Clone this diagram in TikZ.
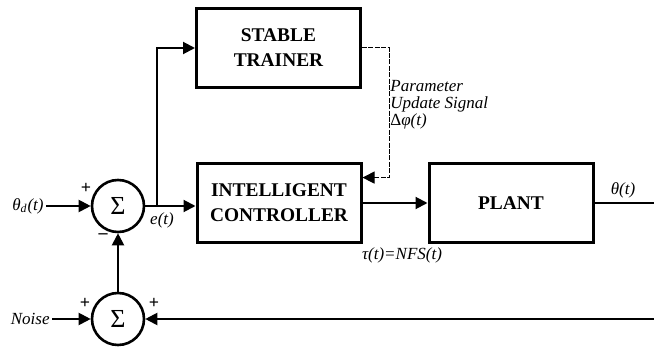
\documentclass[tikz,border=0pt]{standalone}
\usepackage{fontspec}
\setmainfont{Liberation Serif}
\usetikzlibrary{arrows.meta,calc}
\tikzset{
	block/.style={draw,line width=1.5pt,minimum width=82pt,minimum height=39.5pt,align=center,font=\fontsize{9.7}{12.5}\selectfont\bfseries},
	summer/.style={draw,circle,line width=1.3pt,minimum size=26pt,inner sep=0pt,font=\fontsize{13}{13}\selectfont},
	sig/.style={line width=1pt,-{Triangle[length=6pt,width=6pt]}},
	upd/.style={line width=0.5pt,dash pattern=on 2.5pt off 0.7pt,-{Triangle[length=6pt,width=6pt]}},
	lbl/.style={font=\fontsize{8.5}{8.5}\selectfont\itshape,inner sep=1pt},
	sgn/.style={font=\fontsize{9}{9}\selectfont\bfseries,inner sep=0pt},
}
\begin{document}
\begin{tikzpicture}[x=0.5pt,y=-0.5pt]
	\useasboundingbox (0,0) rectangle (654,347);
	%blocs
	\node[block] (trainer) at (278.5,48) {STABLE\\TRAINER};
	\node[block] (ctrl) at (279,203) {INTELLIGENT\\CONTROLLER};
	\node[block] (plant) at (511,203) {PLANT};
	%sommateurs
	\node[summer] (sumE) at (118,206) {Σ};
	\node[summer] (sumN) at (118,319) {Σ};
	%entrees
	\node[lbl,anchor=east] (thetaD) at (46,206) {θ\textsubscript{d}(t)};
	\node[lbl,anchor=east] (noise) at (52,319) {Noise};
	\draw[sig] (thetaD.east) -- (sumE.west);
	\draw[sig] (noise.east) -- (sumN.west);
	\node[sgn] (pE) at (86,188) {+};
	\node[sgn] (mE) at (103,236) {--};
	\node[sgn] (pN1) at (85,303) {+};
	\node[sgn] (pN2) at (154,303) {+};
	%erreur
	\draw[sig] (sumE.east) -- (sumE.east -| ctrl.west);
	\coordinate (branch) at (157,206);
	\node[lbl,anchor=north] (err) at (162,210) {e(t)};
	\draw[sig] (branch) |- (trainer.west);
	\draw[sig] (sumN.north) -- (sumE.south);
	%commande
	\draw[sig] (ctrl.east) -- (plant.west);
	\node[lbl] (tau) at (402,255) {τ(t)=NFS(t)};
	%sortie
	\coordinate (outEnd) at (654,203);
	\draw[line width=1pt] (plant.east) -- (outEnd);
	\node[lbl] (theta) at (623,190) {θ(t)};
	%bruit
	\coordinate (fbEnd) at (654,319);
	\draw[sig] (fbEnd) -- (sumN.east);
	%mise a jour
	\coordinate (updIn) at ($(ctrl.north east)!0.19!(ctrl.south east)$);
	\draw[upd] (trainer.east) -- ++(27,0) |- (updIn);
	\node[lbl,anchor=north west,align=left] (updLbl) at (388,78) {Parameter\\Update Signal\\\upshape Δ\itshape φ(t)};
\end{tikzpicture}
\end{document}
